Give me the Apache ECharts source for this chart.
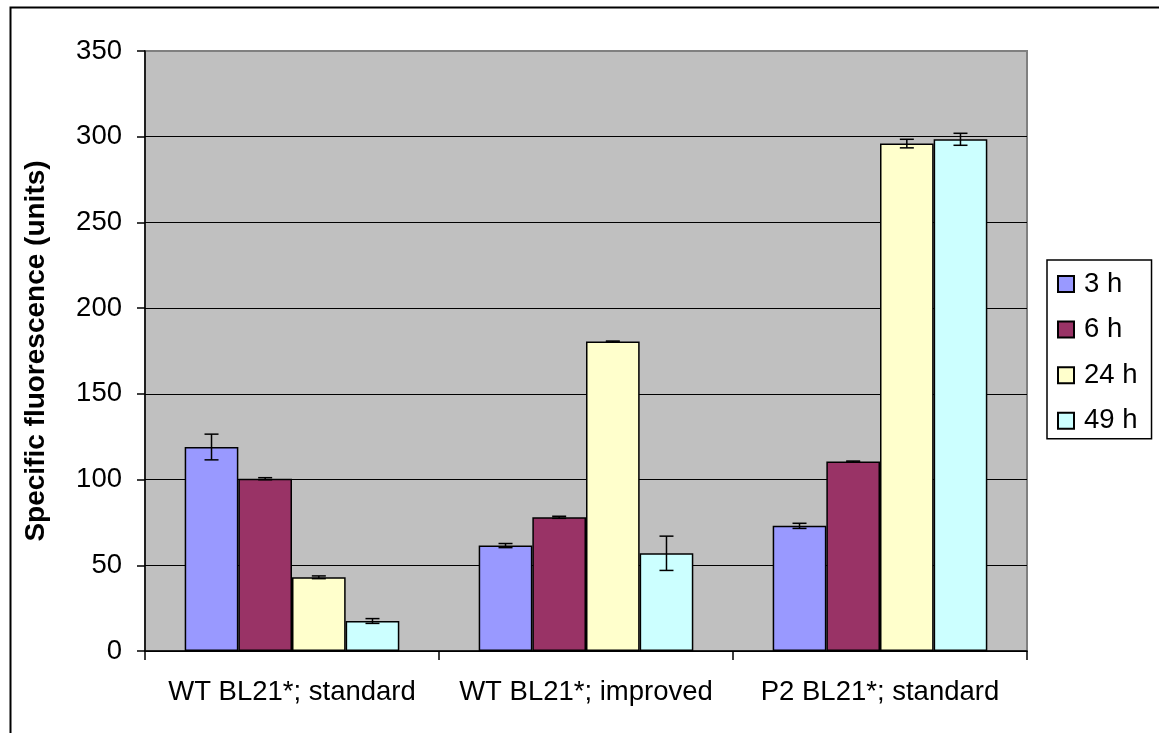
<!DOCTYPE html>
<html>
<head>
<meta charset="utf-8">
<script src="https://cdn.jsdelivr.net/npm/echarts@6/dist/echarts.min.js"></script>
<style>
  html, body { margin: 0; padding: 0; background: #ffffff; }
  #chart { width: 1159px; height: 733px; }
</style>
</head>
<body>
<div id="chart"></div>
<script>
// Strains / culture conditions
var categories = ['WT BL21*; standard', 'WT BL21*; improved', 'P2 BL21*; standard'];
var seriesNames = ['3 h', '6 h', '24 h', '49 h'];

// Specific fluorescence per time point
var values3h  = [119, 61.5, 73];
var values6h  = [100.5, 78, 110.5];
var values24h = [43, 180.5, 296];
var values49h = [17.5, 57, 298.5];

// Error (+/-) per time point
var err3h  = [7.5, 1.2, 1.5];
var err6h  = [0.6, 0.6, 0.3];
var err24h = [0.8, 0.3, 2.5];
var err49h = [1.4, 10, 3.5];

var yTicks = { min: 0, max: 350, interval: 50 };

var seriesValues = [values3h, values6h, values24h, values49h];
var seriesErrors = [err3h, err6h, err24h, err49h];
var colors = ['#9999FF', '#993366', '#FFFFCC', '#CCFFFF'];

var CATEGORY_GAP = 0.27; // fraction of each category left empty
var FONT = '"Liberation Sans", Arial, sans-serif';
var LABEL_SIZE = 27.5;

var chart = echarts.init(document.getElementById('chart'), null, { renderer: 'canvas' });

var series = [];
seriesNames.forEach(function (name, i) {
  series.push({
    name: name,
    type: 'bar',
    data: seriesValues[i],
    barGap: '0%',
    barCategoryGap: (CATEGORY_GAP * 100) + '%',
    itemStyle: { color: colors[i], borderColor: '#000000', borderWidth: 1.5 },
    emphasis: { disabled: true },
    z: 2
  });
});

// Error bars: one custom series per time point, placed over its bar
seriesNames.forEach(function (name, i) {
  var data = seriesValues[i].map(function (v, c) {
    return [c, v - seriesErrors[i][c], v + seriesErrors[i][c]];
  });
  series.push({
    name: name + ' error',
    type: 'custom',
    data: data,
    z: 5,
    silent: true,
    renderItem: function (params, api) {
      var c = api.value(0);
      var band = api.size([1, 0])[0];
      var total = band * (1 - CATEGORY_GAP);
      var barW = total / seriesNames.length;
      var center = api.coord([c, 0])[0] - total / 2 + barW * (i + 0.5);
      var lo = api.coord([c, api.value(1)])[1];
      var hi = api.coord([c, api.value(2)])[1];
      var half = 7;
      var style = { stroke: '#000000', lineWidth: 1.5 };
      return {
        type: 'group',
        children: [
          { type: 'line', shape: { x1: center, y1: lo, x2: center, y2: hi }, style: style },
          { type: 'line', shape: { x1: center - half, y1: hi, x2: center + half, y2: hi }, style: style },
          { type: 'line', shape: { x1: center - half, y1: lo, x2: center + half, y2: lo }, style: style }
        ]
      };
    }
  });
});

var option = {
  animation: false,
  backgroundColor: '#ffffff',
  textStyle: { fontFamily: FONT },
  graphic: [{
    type: 'rect',
    left: 8, top: 5,
    shape: { width: 1200, height: 800 },
    style: { fill: 'none', stroke: '#000000', lineWidth: 2 },
    z: -10
  }],
  grid: {
    left: 145, top: 51, right: 132, bottom: 82,
    show: true,
    backgroundColor: '#C0C0C0',
    borderColor: '#808080',
    borderWidth: 2
  },
  legend: {
    data: seriesNames,
    orient: 'vertical',
    left: 1047, top: 260,
    padding: [10, 14, 4, 10],
    itemWidth: 16, itemHeight: 16,
    itemGap: 17.6,
    borderColor: '#000000', borderWidth: 1.5,
    backgroundColor: '#ffffff',
    icon: 'rect',
    textStyle: {
      fontSize: LABEL_SIZE, color: '#000000', fontFamily: FONT,
      lineHeight: 27, padding: [0, 0, 0, 5]
    },
    selectedMode: false
  },
  xAxis: {
    type: 'category',
    data: categories,
    axisLine: { lineStyle: { color: '#000000', width: 1.5 } },
    axisTick: { show: true, length: 9, lineStyle: { color: '#000000', width: 1.5 } },
    axisLabel: { interval: 0, color: '#000000', fontSize: LABEL_SIZE, margin: 27, fontFamily: FONT },
    splitLine: { show: false }
  },
  yAxis: {
    type: 'value',
    min: yTicks.min, max: yTicks.max, interval: yTicks.interval,
    name: 'Specific fluorescence (units)',
    nameLocation: 'middle',
    nameRotate: 90,
    nameGap: 95,
    nameTextStyle: { fontSize: 28, fontWeight: 'bold', color: '#000000', fontFamily: FONT },
    axisLine: { show: true, lineStyle: { color: '#000000', width: 1.5 } },
    axisTick: { show: true, length: 8, lineStyle: { color: '#000000', width: 1.5 } },
    axisLabel: { color: '#000000', fontSize: LABEL_SIZE, margin: 23, fontFamily: FONT },
    splitLine: {
      show: true,
      lineStyle: {
        color: ['#000000', '#000000', '#000000', '#000000', '#000000', '#000000', '#000000', '#808080'],
        width: 1.2
      }
    }
  },
  series: series
};

chart.setOption(option);
</script>
</body>
</html>
